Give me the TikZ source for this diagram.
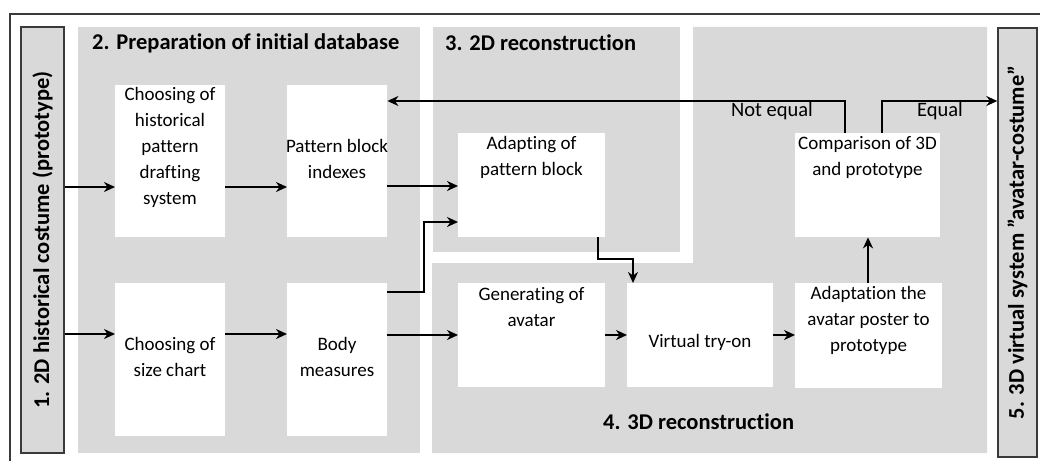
\documentclass[tikz,border=0pt]{standalone}
\usepackage{fontspec}
\setmainfont{Carlito}[Ligatures=NoCommon]
\usetikzlibrary{arrows.meta}
\definecolor{panelgray}{HTML}{D9D9D9}
\definecolor{framegray}{HTML}{3A3A3A}
\begin{document}
\begin{tikzpicture}[x=1pt,y=-1pt,
  stepbox/.style={fill=white, draw=none, inner sep=0pt, anchor=north west},
  side/.style={fill=panelgray, draw=framegray, line width=1.4pt, inner sep=0pt},
  flow/.style={line width=1.8pt, -{Stealth[length=11pt,width=10pt,inset=3.5pt]}},
  txt/.style={font=\fontsize{19}{26}\selectfont, align=center, inner sep=0pt},
  lbl/.style={font=\fontsize{20.5}{24}\selectfont, inner sep=0pt},
  ttl/.style={font=\fontsize{22.5}{26}\selectfont\bfseries, inner sep=0pt},
]
\clip (0,0) rectangle (1040,460);
\fill[white] (0,0) rectangle (1040,460);
\draw[framegray, line width=1.4pt] (10,14) rectangle (1060,480);

% stage panels
\fill[panelgray] (78,27) rectangle (420,453);
\fill[panelgray] (433,27) rectangle (680,252);
\fill[panelgray] (693,27) -- (987,27) -- (987,453) -- (432,453) -- (432,263) -- (693,263) -- cycle;

% input and output columns
\node[side, minimum width=43pt, minimum height=426pt] (s1) at (42.5,240)
  {\rotatebox{90}{\fontsize{22.5}{26}\selectfont\bfseries 1. 2D historical costume (prototype)}};
\node[side, minimum width=39pt, minimum height=429pt] (s5) at (1017.5,242.5)
  {\rotatebox{90}{\fontsize{22.5}{26}\selectfont\bfseries 5. 3D virtual system "avatar-costume"}};

% stage titles
\node[ttl, anchor=west] (h2) at (92,43) {2. Preparation of initial database};
\node[ttl, anchor=west] (h3) at (445,43) {3. 2D reconstruction};
\node[ttl, anchor=west] (h4) at (603,422) {4. 3D reconstruction};

% process boxes
\node[stepbox, minimum width=110pt, minimum height=152pt] (b1) at (115,85) {};
\node[stepbox, minimum width=100pt, minimum height=152pt] (b2) at (287,85) {};
\node[stepbox, minimum width=110pt, minimum height=153pt] (b3) at (115,283) {};
\node[stepbox, minimum width=100pt, minimum height=153pt] (b4) at (287,283) {};
\node[stepbox, minimum width=147pt, minimum height=104pt] (b5) at (458,133) {};
\node[stepbox, minimum width=145pt, minimum height=104pt] (b6) at (795,133) {};
\node[stepbox, minimum width=147pt, minimum height=104pt] (b7) at (458,283) {};
\node[stepbox, minimum width=146pt, minimum height=104pt] (b8) at (627,283) {};
\node[stepbox, minimum width=147pt, minimum height=105pt] (b9) at (795,283) {};

% box texts
\node[txt] (t1) at (170,147) {Choosing of\\historical\\pattern\\drafting\\system};
\node[txt] (t2) at (337,159) {Pattern block\\indexes};
\node[txt] (t3) at (170,357) {Choosing of\\size chart};
\node[txt] (t4) at (337,357) {Body\\measures};
\node[txt] (t5) at (531.5,157) {Adapting of\\pattern block};
\node[txt] (t6) at (867.5,157) {Comparison of 3D\\and prototype};
\node[txt] (t7) at (531.5,307) {Generating of\\avatar};
\node[txt] (t8) at (700,342) {Virtual try-on};
\node[txt] (t9) at (868.5,320) {Adaptation the\\avatar poster to\\prototype};

% connectors
\draw[flow] (s1.east |- 0,187) -- (b1.west |- 0,187);
\draw[flow] (b1.east |- 0,187) -- (b2.west |- 0,187);
\draw[flow] (b2.east |- 0,186) -- (b5.west |- 0,186);
\draw[flow] (s1.east |- 0,334) -- (b3.west |- 0,334);
\draw[flow] (b3.east |- 0,334) -- (b4.west |- 0,334);
\draw[flow] (b4.east |- 0,335) -- (b7.west |- 0,335);
\draw[flow] (b4.east |- 0,292) -- (424,292) -- (424,222) -- (b5.west |- 0,222);
\draw[flow] (b5.south -| 598,0) -- (598,259) -- (633,259) -- (b8.north -| 633,0);
\draw[flow] (b7.east |- 0,335) -- (b8.west |- 0,335);
\draw[flow] (b8.east |- 0,335) -- (b9.west |- 0,335);
\draw[flow] (b9.north -| 868,0) -- (b6.south -| 868,0);
\draw[flow] (b6.north -| 845,0) -- (845,101) -- (b2.east |- 0,101);
\draw[flow] (b6.north -| 882,0) -- (882,101) -- (s5.west |- 0,101);

% decision labels
\node[lbl] (ne) at (772,111) {Not equal};
\node[lbl] (eq) at (940,111) {Equal};
\end{tikzpicture}
\end{document}
